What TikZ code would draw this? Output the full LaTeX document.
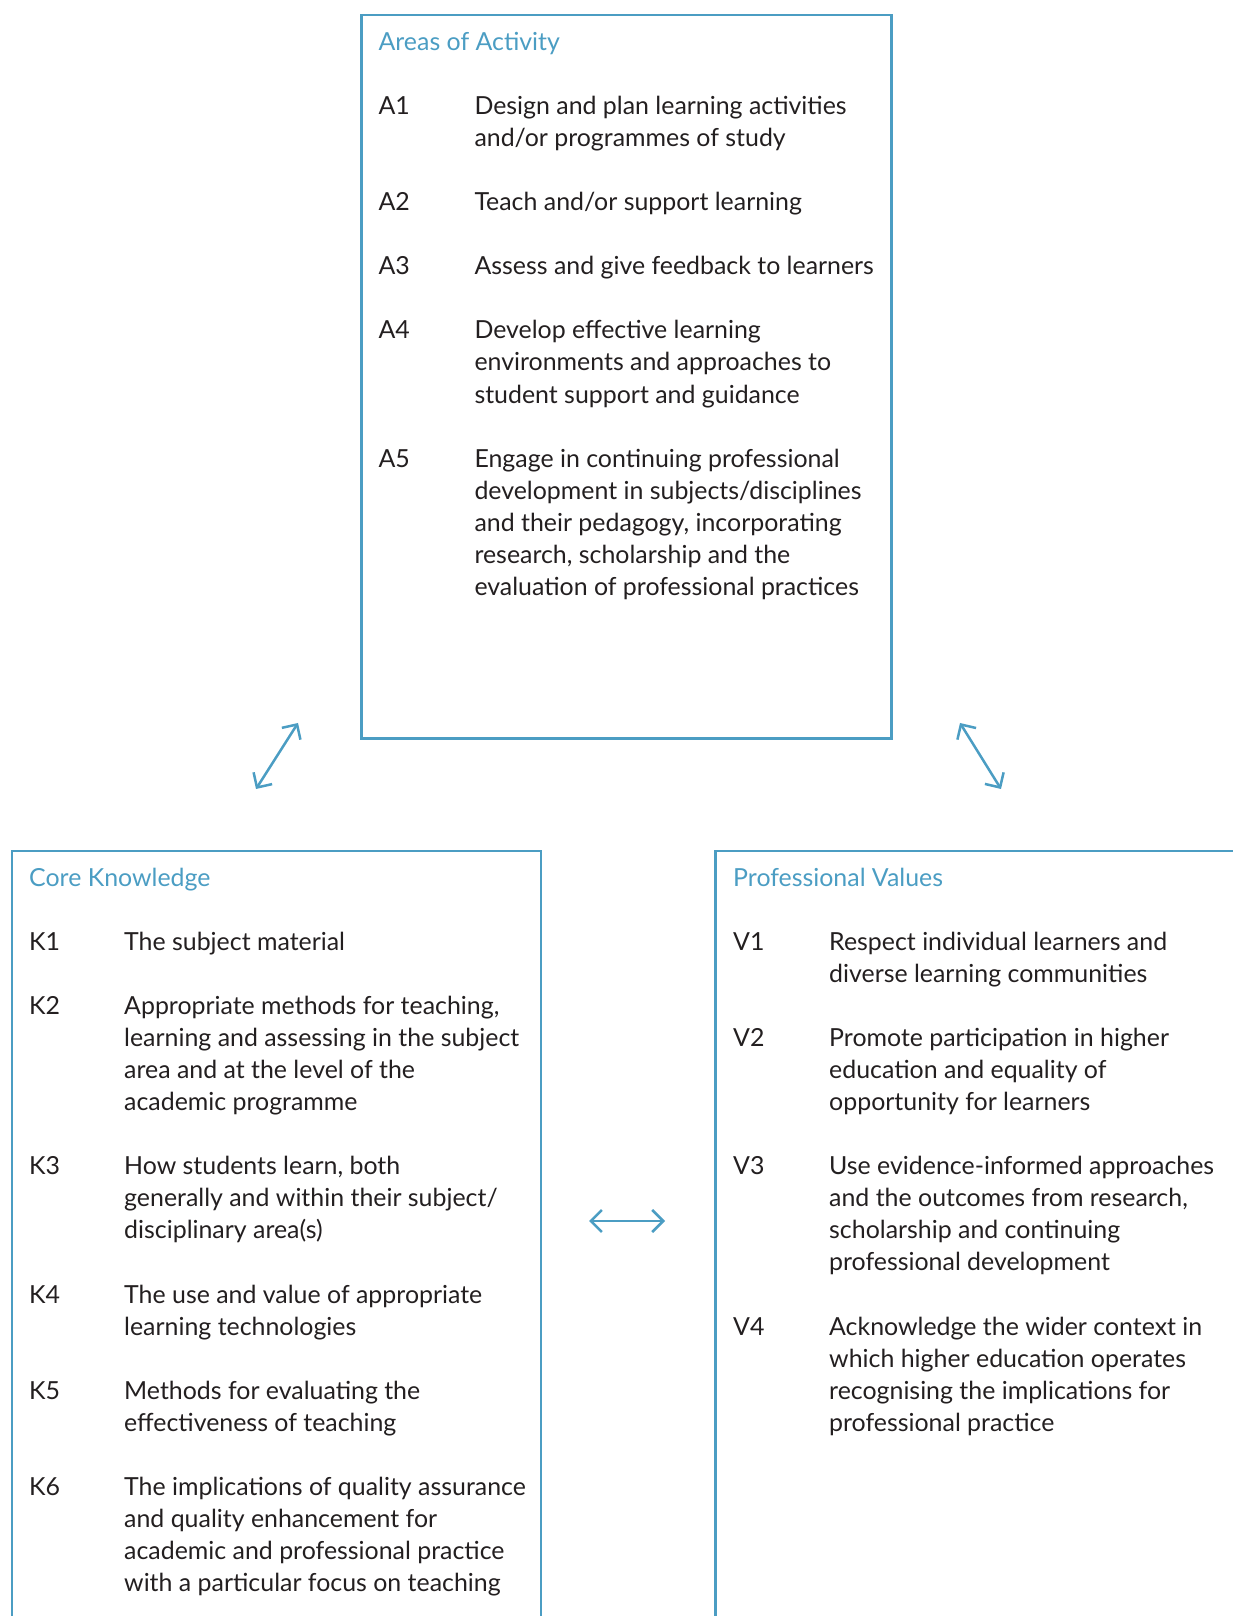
\documentclass[tikz,border=0pt]{standalone}
\usepackage{fontspec}
\setmainfont{Lato}
\usetikzlibrary{arrows.meta}
\definecolor{ukblue}{RGB}{75,157,195}
\definecolor{ink}{RGB}{35,31,32}
\newcommand\itemlines[1]{\begin{tabular}[t]{@{}l@{}}#1\end{tabular}}
\begin{document}
\begin{tikzpicture}[x=1pt,y=1pt,
  frame/.style={draw=ukblue,line width=2.5pt},
  boxtitle/.style={anchor=base west,inner sep=0pt,text=ukblue,font=\fontsize{24.9}{32.05}\selectfont},
  itemlabel/.style={anchor=base west,inner sep=0pt,text=ink,font=\fontsize{24.9}{32.05}\selectfont},
  itemtext/.style={anchor=base west,inner sep=0pt,text=ink,font=\fontsize{24.9}{32.05}\selectfont},
  link/.style={draw=ukblue,line width=2.5pt,{Straight Barb[length=11pt,width=22pt]}-{Straight Barb[length=11pt,width=22pt]}}]
\useasboundingbox (0,0) rectangle (1233,1616);
% boxes
\draw[frame] (361.7,877.3) rectangle (891.3,1600.8);
\draw[frame] (12,-10) -- (12,765) -- (541,765) -- (541,-10);
\draw[frame] (715.7,-10) -- (715.7,765) -- (1245,765);
% Areas of Activity
\def\ty{1565.5}
\node[boxtitle] (at) at (378.4,\ty) {Areas of Activity};
\node[itemlabel] (a1) at (378.4,{\ty-32.05*2}) {A1};
\node[itemtext] (a1t) at (474.3,{\ty-32.05*2}) {\itemlines{Design and plan learning activities\\and/or programmes of study}};
\node[itemlabel] (a2) at (378.4,{\ty-32.05*5}) {A2};
\node[itemtext] (a2t) at (474.3,{\ty-32.05*5}) {\itemlines{Teach and/or support learning}};
\node[itemlabel] (a3) at (378.4,{\ty-32.05*7}) {A3};
\node[itemtext] (a3t) at (474.3,{\ty-32.05*7}) {\itemlines{Assess and give feedback to learners}};
\node[itemlabel] (a4) at (378.4,{\ty-32.05*9}) {A4};
\node[itemtext] (a4t) at (474.3,{\ty-32.05*9}) {\itemlines{Develop effective learning\\environments and approaches to\\student support and guidance}};
\node[itemlabel] (a5) at (378.4,{\ty-32.05*13}) {A5};
\node[itemtext] (a5t) at (474.3,{\ty-32.05*13}) {\itemlines{Engage in continuing professional\\development in subjects/disciplines\\and their pedagogy, incorporating\\research, scholarship and the\\evaluation of professional practices}};
% Core Knowledge
\def\ky{729.6}
\node[boxtitle] (kt) at (29,\ky) {Core Knowledge};
\node[itemlabel] (k1) at (29,{\ky-32.05*2}) {K1};
\node[itemtext] (k1t) at (124,{\ky-32.05*2}) {\itemlines{The subject material}};
\node[itemlabel] (k2) at (29,{\ky-32.05*4}) {K2};
\node[itemtext] (k2t) at (124,{\ky-32.05*4}) {\itemlines{Appropriate methods for teaching,\\learning and assessing in the subject\\area and at the level of the\\academic programme}};
\node[itemlabel] (k3) at (29,{\ky-32.05*9}) {K3};
\node[itemtext] (k3t) at (124,{\ky-32.05*9}) {\itemlines{How students learn, both\\generally and within their subject/\\disciplinary area(s)}};
\node[itemlabel] (k4) at (29,{\ky-32.05*13}) {K4};
\node[itemtext] (k4t) at (124,{\ky-32.05*13}) {\itemlines{The use and value of appropriate\\learning technologies}};
\node[itemlabel] (k5) at (29,{\ky-32.05*16}) {K5};
\node[itemtext] (k5t) at (124,{\ky-32.05*16}) {\itemlines{Methods for evaluating the\\effectiveness of teaching}};
\node[itemlabel] (k6) at (29,{\ky-32.05*19}) {K6};
\node[itemtext] (k6t) at (124,{\ky-32.05*19}) {\itemlines{The implications of quality assurance\\and quality enhancement for\\academic and professional practice\\with a particular focus on teaching}};
% Professional Values
\node[boxtitle] (vt) at (733,\ky) {Professional Values};
\node[itemlabel] (v1) at (733,{\ky-32.05*2}) {V1};
\node[itemtext] (v1t) at (829,{\ky-32.05*2}) {\itemlines{Respect individual learners and\\diverse learning communities}};
\node[itemlabel] (v2) at (733,{\ky-32.05*5}) {V2};
\node[itemtext] (v2t) at (829,{\ky-32.05*5}) {\itemlines{Promote participation in higher\\education and equality of\\opportunity for learners}};
\node[itemlabel] (v3) at (733,{\ky-32.05*9}) {V3};
\node[itemtext] (v3t) at (829,{\ky-32.05*9}) {\itemlines{Use evidence-informed approaches\\and the outcomes from research,\\scholarship and continuing\\professional development}};
\node[itemlabel] (v4) at (733,{\ky-32.05*14}) {V4};
\node[itemtext] (v4t) at (829,{\ky-32.05*14}) {\itemlines{Acknowledge the wider context in\\which higher education operates\\recognising the implications for\\professional practice}};
% arrows
\coordinate (l1) at (256,827);
\coordinate (l2) at (298,893);
\coordinate (r1) at (960,893);
\coordinate (r2) at (1001,827);
\coordinate (h1) at (589,395);
\coordinate (h2) at (665,395);
\draw[link] (l1) -- (l2);
\draw[link] (r1) -- (r2);
\draw[link] (h1) -- (h2);
\end{tikzpicture}
\end{document}
